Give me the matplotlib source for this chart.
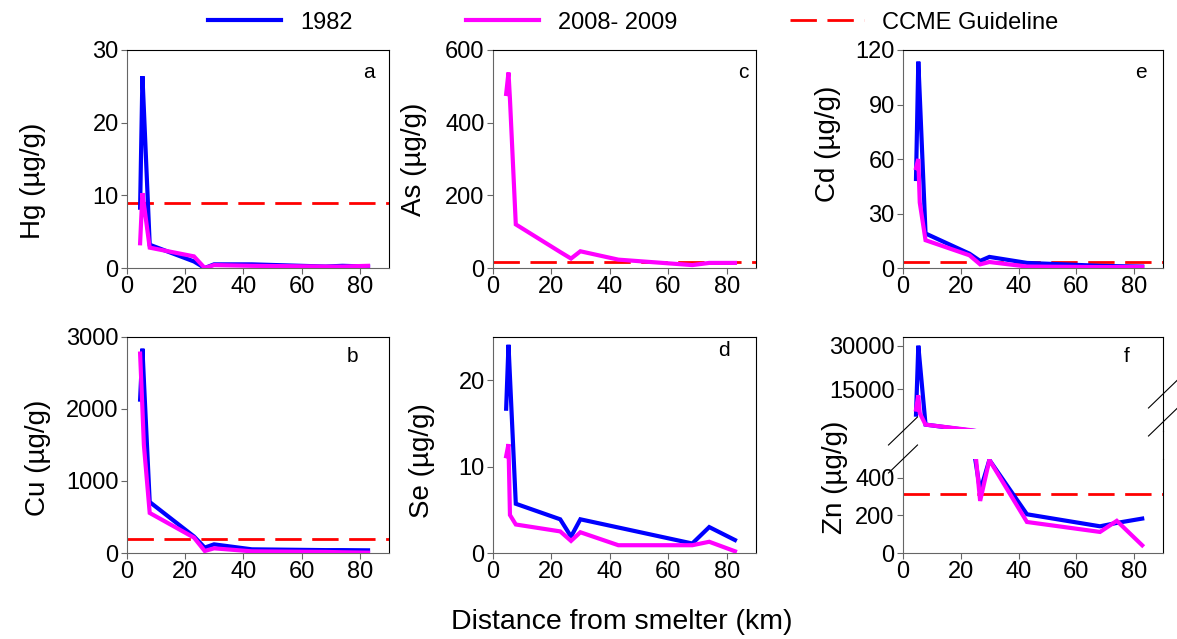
import numpy as np
import matplotlib
matplotlib.use('Agg')
import matplotlib.pyplot as plt
from matplotlib.lines import Line2D
from matplotlib.patches import Rectangle

plt.rcParams['font.family'] = ['Liberation Sans', 'DejaVu Sans']

# distance from smelter (km), shared by all panels
distance = [4.5, 5.3, 5.8, 7.8, 23.0, 26.7, 29.9, 42.9, 68.2, 74.0, 82.8]

hg_1982 = [8.3, 26.4, 21.8, 3.2, 0.9, 0.0, 0.5, 0.5, 0.2, 0.3, 0.2]
hg_2008 = [3.4, 10.3, 8.8, 2.8, 1.6, 0.0, 0.4, 0.3, 0.2, 0.2, 0.3]

cu_1982 = [2130, 2838, 2400, 708, 230, 75, 120, 51, 40, 40, 37]
cu_2008 = [2770, 2000, 1500, 556, 214, 28, 65, 23, 15, 10, 5]

as_2008 = [479, 538, 465, 120, 44, 26, 46, 23, 8, 14, 14]

se_1982 = [16.7, 24.1, 20.4, 5.7, 3.9, 1.9, 3.9, 2.95, 1.1, 3.0, 1.5]
se_2008 = [11.2, 12.6, 4.4, 3.3, 2.5, 1.4, 2.4, 0.9, 0.9, 1.3, 0.2]

cd_1982 = [49, 113.6, 95, 19, 7.9, 3.9, 6.1, 2.8, 1.2, 1.0, 0.8]
cd_2008 = [55, 60, 36, 15.3, 7, 2, 3.3, 0.8, 0.5, 0.5, 0.6]

zn_1982 = [6160, 30000, 24500, 2720, 700, 330, 495, 206, 142, 160, 183]
zn_2008 = [7900, 12800, 6700, 2700, 860, 277, 495, 165, 112, 171, 41]

# CCME guideline values (ug/g)
hg_guide = 9
as_guide = 17
cd_guide = 3.5
cu_guide = 197
zn_guide = 315

W, H = 1177, 639
fig = plt.figure(figsize=(W / 100, H / 100), dpi=100)

BLUE = '#0000ff'
PINK = '#ff00ff'
RED = '#ff0000'
LW = 3.0
TICK_FS = 17
LABEL_FS = 20


def px_axes(left, top, right, bottom):
    return fig.add_axes([left / W, 1 - bottom / H, (right - left) / W, (bottom - top) / H])


def style(ax, show_bottom=True, show_top=True):
    for s in ['left', 'bottom']:
        ax.spines[s].set_color('#666666')
    for s in ['top', 'right']:
        ax.spines[s].set_color('black')
    for s in ax.spines.values():
        s.set_linewidth(0.8)
    ax.spines['bottom'].set_visible(show_bottom)
    ax.spines['top'].set_visible(show_top)
    ax.tick_params(direction='out', length=4, width=0.8, color='#666666', labelsize=TICK_FS, pad=2)
    ax.set_xlim(0, 90)
    ax.set_xticks([0, 20, 40, 60, 80])


def guide(ax, val):
    ax.axhline(val, color=RED, lw=2, dashes=(9.5, 3.8), zorder=1)


def plot_pair(ax, y82, y08, n=None):
    n = n or len(distance)
    lines = []
    if y82 is not None:
        lines += ax.plot(distance[:n], y82[:n], color=BLUE, lw=LW, zorder=2, solid_joinstyle='miter')
    if y08 is not None:
        lines += ax.plot(distance[:n], y08[:n], color=PINK, lw=LW, zorder=3, solid_joinstyle='miter')
    return lines


def ylabel(ax, text, x, y):
    ax.set_ylabel(text, fontsize=LABEL_FS)
    ax.yaxis.set_label_coords(x, y)


cols = [(127, 389), (493, 756), (903, 1163)]
rows = [(50, 268), (337, 553)]

# a - Hg
ax = px_axes(cols[0][0], rows[0][0], cols[0][1], rows[0][1])
guide(ax, hg_guide)
plot_pair(ax, hg_1982, hg_2008)
style(ax)
ax.set_ylim(0, 30)
ax.set_yticks([0, 10, 20, 30])
ylabel(ax, 'Hg (µg/g)', -0.31, 0.40)

# c - As
ax = px_axes(cols[1][0], rows[0][0], cols[1][1], rows[0][1])
guide(ax, as_guide)
plot_pair(ax, None, as_2008)
style(ax)
ax.set_ylim(0, 600)
ax.set_yticks([0, 200, 400, 600])
ylabel(ax, 'As (µg/g)', -0.25, 0.50)

# e - Cd
ax = px_axes(cols[2][0], rows[0][0], cols[2][1], rows[0][1])
guide(ax, cd_guide)
plot_pair(ax, cd_1982, cd_2008)
style(ax)
ax.set_ylim(0, 120)
ax.set_yticks([0, 30, 60, 90, 120])
ylabel(ax, 'Cd (µg/g)', -0.24, 0.57)

# b - Cu
ax = px_axes(cols[0][0], rows[1][0], cols[0][1], rows[1][1])
guide(ax, cu_guide)
plot_pair(ax, cu_1982, cu_2008)
style(ax)
ax.set_ylim(0, 3000)
ax.set_yticks([0, 1000, 2000, 3000])
ylabel(ax, 'Cu (µg/g)', -0.29, 0.44)

# d - Se (no guideline)
ax = px_axes(cols[1][0], rows[1][0], cols[1][1], rows[1][1])
plot_pair(ax, se_1982, se_2008)
style(ax)
ax.set_ylim(0, 25)
ax.set_yticks([0, 10, 20])
ylabel(ax, 'Se (µg/g)', -0.22, 0.43)

# f - Zn, broken y axis
axu = px_axes(cols[2][0], 337, cols[2][1], 431)
axl = px_axes(cols[2][0], 459, cols[2][1], 553)
guide(axl, zn_guide)
# upper part only needs the near-smelter points; clip a bit above the edge
clip = Rectangle((0, 0.02), 1, 0.98, transform=axu.transAxes, visible=False)
axu.add_patch(clip)
for ln in plot_pair(axu, zn_1982, zn_2008, n=6):
    ln.set_clip_path(clip)
plot_pair(axl, zn_1982, zn_2008)
style(axu, show_bottom=False)
style(axl, show_top=False)
axu.set_ylim(500, 33000)
axu.set_yticks([15000, 30000])
axu.tick_params(axis='x', bottom=False, labelbottom=False)
axl.set_ylim(0, 500)
axl.set_yticks([0, 200, 400])
ylabel(axl, 'Zn (µg/g)', -0.21, 0.80)

# spines through the gap + break marks
pu = axu.get_position()
pl = axl.get_position()
for x, c in [(pu.x0, '#666666'), (pu.x1, 'black')]:
    fig.add_artist(Line2D([x, x], [pl.y1, pu.y0], transform=fig.transFigure, color=c, lw=0.8))
dx, dy = 14.5 / W, 14 / H
for yc in (pu.y0, pl.y1):
    fig.add_artist(Line2D([pu.x0 - dx, pu.x0 + dx], [yc - dy, yc + dy],
                          transform=fig.transFigure, color='black', lw=0.8))
    fig.add_artist(Line2D([pu.x1 - dx, pu.x1 + dx], [yc - dy + 37 / H, yc + dy + 37 / H],
                          transform=fig.transFigure, color='black', lw=0.8))

# panel letters
for letter, x, y in [('a', 369, 73), ('c', 743, 72), ('e', 1141, 72),
                     ('b', 352, 357), ('d', 724, 350), ('f', 1127, 357)]:
    fig.text(x / W, 1 - y / H, letter, fontsize=15, ha='center', va='center')

fig.text(622 / W, 1 - 622 / H, 'Distance from smelter (km)', fontsize=20.5, ha='center', va='center')

handles = [Line2D([], [], color=BLUE, lw=LW),
           Line2D([], [], color=PINK, lw=LW),
           Line2D([], [], color=RED, lw=2, dashes=(9.5, 3.8))]
fig.legend(handles, ['1982', '2008- 2009', 'CCME Guideline'], loc='upper center',
           bbox_to_anchor=(0.538, 1.015), ncol=3, frameon=False, fontsize=17,
           handlelength=3.1, handletextpad=0.8, columnspacing=4.8)

fig.savefig('out.png', dpi=100)
